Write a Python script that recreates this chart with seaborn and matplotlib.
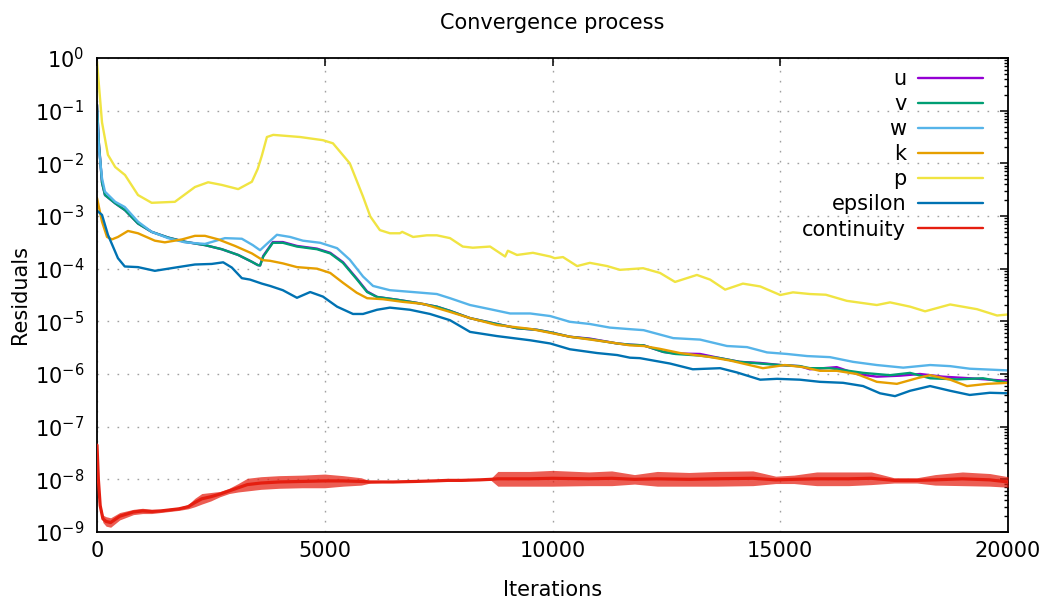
import numpy as np
import pandas as pd
import matplotlib
matplotlib.use("Agg")
import matplotlib.pyplot as plt
import seaborn as sns
from matplotlib.lines import Line2D
from matplotlib.ticker import LogLocator, FixedLocator, NullLocator, LogFormatterSciNotation

# ---------------- data ----------------
series_names = ["u", "v", "w", "k", "p", "epsilon", "continuity"]
series_colors = ["#9400d3", "#009e73", "#56b4e9", "#e69f00", "#f0e442", "#0072b2", "#e51e10"]
x_ticks = [0, 5000, 10000, 15000, 20000]

p_iter = [0, 110, 240, 400, 615, 900, 1200, 1710, 2150, 2440, 2740, 3100, 3400, 3530, 3620,
          3730, 3870, 4460, 4960, 5180, 5550, 5840, 6000, 6210, 6430, 6650, 6700, 6940, 7240,
          7460, 7750, 8030, 8250, 8630, 8960, 9020, 9220, 9570, 9950, 10050, 10230, 10540,
          10820, 11200, 11480, 11990, 12360, 12690, 13170, 13460, 13790, 14180, 14560, 15000,
          15280, 15650, 16000, 16460, 17120, 17410, 17850, 18180, 18730, 19320, 19760, 20000]
p_res = [8.5e-1, 6.0e-2, 1.45e-2, 8.5e-3, 6.0e-3, 2.5e-3, 1.78e-3, 1.86e-3, 3.55e-3, 4.37e-3,
         3.89e-3, 3.24e-3, 4.47e-3, 7.9e-3, 1.41e-2, 3.16e-2, 3.47e-2, 3.16e-2, 2.75e-2, 2.40e-2,
         1.0e-2, 2.34e-3, 9.8e-4, 5.4e-4, 4.7e-4, 4.7e-4, 5.0e-4, 4.0e-4, 4.3e-4, 4.3e-4, 3.8e-4,
         2.63e-4, 2.5e-4, 2.63e-4, 1.70e-4, 2.19e-4, 1.82e-4, 2.0e-4, 1.70e-4, 1.58e-4, 1.66e-4,
         1.12e-4, 1.29e-4, 1.12e-4, 9.5e-5, 1.02e-4, 8.3e-5, 5.6e-5, 7.6e-5, 6.2e-5, 4.0e-5,
         5.2e-5, 4.6e-5, 3.16e-5, 3.55e-5, 3.3e-5, 3.2e-5, 2.45e-5, 2.04e-5, 2.29e-5, 1.9e-5,
         1.55e-5, 2.09e-5, 1.70e-5, 1.29e-5, 1.35e-5]

eps_iter = [0, 110, 240, 460, 610, 900, 1270, 1780, 2150, 2520, 2770, 2960, 3180, 3360, 3620,
            3800, 4080, 4390, 4680, 4960, 5270, 5620, 5840, 6150, 6430, 6870, 7310, 7750, 8190,
            8780, 9510, 9950, 10380, 10980, 11420, 11700, 11920, 12580, 13080, 13680, 14050,
            14560, 14930, 15430, 15870, 16380, 16820, 17190, 17520, 17850, 18290, 18730, 19160,
            19600, 20000]
eps_res = [1.26e-3, 1.05e-3, 4.4e-4, 1.58e-4, 1.10e-4, 1.07e-4, 9.1e-5, 1.07e-4, 1.20e-4, 1.23e-4,
           1.32e-4, 1.05e-4, 6.6e-5, 6.2e-5, 5.2e-5, 4.7e-5, 3.9e-5, 2.8e-5, 3.6e-5, 2.95e-5,
           1.9e-5, 1.38e-5, 1.38e-5, 1.66e-5, 1.82e-5, 1.66e-5, 1.38e-5, 1.05e-5, 6.3e-6, 5.25e-6,
           4.37e-6, 3.8e-6, 2.95e-6, 2.5e-6, 2.29e-6, 2.04e-6, 2.0e-6, 1.58e-6, 1.23e-6, 1.29e-6,
           1.07e-6, 7.8e-7, 8.1e-7, 7.8e-7, 7.1e-7, 6.8e-7, 5.9e-7, 4.3e-7, 3.8e-7, 4.8e-7, 5.9e-7,
           4.8e-7, 4.0e-7, 4.4e-7, 4.3e-7]

w_iter = [0, 40, 110, 175, 400, 610, 900, 1200, 1560, 1930, 2370, 2810, 3180, 3420, 3580, 3700,
          3950, 4240, 4520, 4900, 5270, 5550, 5840, 6060, 6430, 7020, 7460, 7750, 8190, 8630,
          9070, 9510, 9950, 10380, 10820, 11260, 11700, 12000, 12650, 13240, 13830, 14270,
          14710, 15150, 15590, 16090, 16600, 17120, 17700, 18290, 18730, 19160, 20000]
w_res = [1.0e-1, 2.0e-2, 5.2e-3, 2.9e-3, 1.86e-3, 1.48e-3, 7.8e-4, 5.0e-4, 3.8e-4, 3.16e-4,
         2.95e-4, 3.8e-4, 3.7e-4, 2.8e-4, 2.24e-4, 2.8e-4, 4.4e-4, 4.0e-4, 3.4e-4, 3.1e-4,
         2.45e-4, 1.48e-4, 7.1e-5, 4.7e-5, 3.9e-5, 3.55e-5, 3.3e-5, 2.75e-5, 2.04e-5, 1.70e-5,
         1.41e-5, 1.41e-5, 1.26e-5, 9.8e-6, 8.9e-6, 7.6e-6, 7.1e-6, 6.8e-6, 4.8e-6, 4.5e-6,
         3.4e-6, 3.24e-6, 2.57e-6, 2.4e-6, 2.19e-6, 2.09e-6, 1.70e-6, 1.48e-6, 1.32e-6, 1.48e-6,
         1.41e-6, 1.26e-6, 1.17e-6]

v_iter = [0, 40, 110, 175, 400, 615, 900, 1200, 1560, 1930, 2370, 2740, 3100, 3400, 3530, 3580,
          3650, 3860, 4080, 4390, 4830, 5120, 5400, 5710, 5930, 6150, 6590, 7020, 7460, 7750,
          8190, 8780, 9220, 9660, 9950, 10380, 10820, 11420, 11700, 12000, 12430, 12700, 13240,
          13680, 14110, 14560, 15000, 15430, 15650, 16090, 16820, 17410, 17850, 18290, 18880,
          19450, 20000]
v_res = [1.3e-1, 2.5e-2, 4.3e-3, 2.5e-3, 1.74e-3, 1.29e-3, 7.2e-4, 5.0e-4, 3.9e-4, 3.24e-4,
         2.8e-4, 2.34e-4, 1.82e-4, 1.35e-4, 1.17e-4, 1.15e-4, 1.7e-4, 3.1e-4, 3.1e-4, 2.63e-4,
         2.34e-4, 1.95e-4, 1.29e-4, 6.2e-5, 3.6e-5, 2.9e-5, 2.57e-5, 2.24e-5, 1.9e-5, 1.58e-5,
         1.15e-5, 8.9e-6, 7.4e-6, 6.9e-6, 6.2e-6, 5.1e-6, 4.6e-6, 3.8e-6, 3.6e-6, 3.5e-6, 2.63e-6,
         2.4e-6, 2.24e-6, 2.0e-6, 1.70e-6, 1.58e-6, 1.48e-6, 1.41e-6, 1.29e-6, 1.29e-6, 1.05e-6,
         9.5e-7, 1.05e-6, 8.3e-7, 7.9e-7, 8.3e-7, 6.8e-7]

u_iter = [0, 40, 110, 175, 400, 615, 900, 1200, 1560, 1930, 2370, 2740, 3100, 3400, 3530, 3580,
          3650, 3860, 4080, 4390, 4830, 5120, 5400, 5710, 5930, 6150, 6590, 7020, 7460, 7750,
          8190, 8780, 9220, 9660, 9950, 10380, 10820, 11420, 11700, 12000, 12430, 12700, 13240,
          13680, 14110, 14560, 15000, 15430, 15650, 16240, 16680, 17120, 17630, 18070, 18570,
          19160, 20000]
u_res = [1.3e-1, 2.5e-2, 4.3e-3, 2.5e-3, 1.74e-3, 1.29e-3, 7.2e-4, 5.0e-4, 3.9e-4, 3.24e-4,
         2.8e-4, 2.34e-4, 1.82e-4, 1.35e-4, 1.17e-4, 1.15e-4, 1.75e-4, 3.2e-4, 3.2e-4, 2.7e-4,
         2.4e-4, 2.0e-4, 1.33e-4, 6.4e-5, 3.7e-5, 2.9e-5, 2.57e-5, 2.24e-5, 1.9e-5, 1.58e-5,
         1.15e-5, 8.9e-6, 7.4e-6, 6.9e-6, 6.2e-6, 5.1e-6, 4.7e-6, 3.8e-6, 3.6e-6, 3.5e-6, 2.63e-6,
         2.45e-6, 2.4e-6, 2.0e-6, 1.70e-6, 1.62e-6, 1.48e-6, 1.41e-6, 1.23e-6, 1.35e-6, 1.0e-6,
         8.9e-7, 9.3e-7, 1.0e-6, 8.9e-7, 8.3e-7, 7.4e-7]

k_iter = [0, 110, 220, 330, 460, 680, 900, 1270, 1490, 1870, 2150, 2370, 2660, 3030, 3400, 3640,
          3800, 4080, 4390, 4830, 5120, 5400, 5700, 5930, 6280, 6720, 7160, 7750, 8190, 8780,
          9510, 10380, 11260, 11700, 12000, 12360, 12800, 13460, 13900, 14620, 15100, 15500,
          15870, 16240, 16680, 17120, 17560, 18000, 18290, 18730, 19100, 19540, 20000]
k_res = [2.2e-3, 7.8e-4, 4.0e-4, 3.6e-4, 4.0e-4, 5.2e-4, 4.7e-4, 3.4e-4, 3.16e-4, 3.6e-4,
         4.2e-4, 4.2e-4, 3.6e-4, 2.7e-4, 1.95e-4, 1.45e-4, 1.41e-4, 1.26e-4, 1.07e-4, 1.0e-4,
         8.3e-5, 5.4e-5, 3.5e-5, 2.75e-5, 2.63e-5, 2.34e-5, 2.14e-5, 1.51e-5, 1.15e-5, 8.5e-6,
         7.2e-6, 5.1e-6, 4.0e-6, 3.5e-6, 3.4e-6, 3.0e-6, 2.5e-6, 2.1e-6, 1.8e-6, 1.29e-6, 1.48e-6,
         1.35e-6, 1.15e-6, 1.15e-6, 1.0e-6, 7.1e-7, 6.5e-7, 8.3e-7, 9.5e-7, 7.8e-7, 5.9e-7,
         6.5e-7, 6.8e-7]

# continuity: decade exponents (log10 of residual) of the trace and of its noise envelope
cont_iter = [0, 30, 70, 130, 200, 300, 400, 500, 650, 800, 1000, 1200, 1400, 1600, 1800, 2000,
             2150, 2300, 2500, 2700, 2900, 3100, 3300, 3600, 4000, 4500, 5000, 5400, 5800, 6000,
             6500, 7000, 7400, 7700, 8000, 8400, 8650, 8800, 9500, 10000, 10800, 11300, 11800,
             12300, 13000, 13600, 14400, 14900, 15300, 15800, 16500, 17000, 17500, 18000, 18400,
             19000, 19600, 20000]
cont_exp_mid = [-7.35, -8.0, -8.5, -8.75, -8.80, -8.82, -8.76, -8.70, -8.66, -8.62, -8.60, -8.61,
                -8.60, -8.58, -8.56, -8.52, -8.44, -8.37, -8.33, -8.28, -8.22, -8.16, -8.10,
                -8.07, -8.05, -8.04, -8.03, -8.03, -8.04, -8.05, -8.05, -8.04, -8.03, -8.02,
                -8.02, -8.01, -8.00, -7.99, -7.99, -7.98, -7.99, -7.98, -8.00, -7.99, -8.00,
                -7.99, -7.98, -8.01, -8.00, -7.99, -7.99, -7.98, -8.02, -8.02, -8.01, -7.99,
                -8.01, -8.05]
cont_exp_lo = [-7.37, -8.04, -8.55, -8.82, -8.89, -8.91, -8.84, -8.77, -8.72, -8.67, -8.65, -8.65,
               -8.63, -8.61, -8.59, -8.56, -8.52, -8.47, -8.41, -8.33, -8.27, -8.24, -8.22,
               -8.19, -8.17, -8.16, -8.16, -8.13, -8.11, -8.07, -8.05, -8.04, -8.04, -8.02,
               -8.03, -8.01, -8.02, -8.13, -8.13, -8.13, -8.12, -8.12, -8.09, -8.13, -8.13,
               -8.13, -8.12, -8.08, -8.08, -8.12, -8.12, -8.10, -8.07, -8.07, -8.11, -8.12,
               -8.13, -8.15]
cont_exp_hi = [-7.33, -7.96, -8.45, -8.68, -8.71, -8.73, -8.68, -8.63, -8.60, -8.57, -8.55, -8.57,
               -8.57, -8.55, -8.53, -8.48, -8.36, -8.27, -8.25, -8.23, -8.17, -8.08, -7.98,
               -7.95, -7.93, -7.92, -7.90, -7.93, -7.97, -8.03, -8.05, -8.04, -8.02, -8.02,
               -8.01, -8.01, -7.98, -7.85, -7.85, -7.83, -7.86, -7.84, -7.91, -7.85, -7.87,
               -7.85, -7.84, -7.94, -7.92, -7.86, -7.86, -7.86, -7.97, -7.97, -7.91, -7.86,
               -7.89, -7.95]

# ---------------- style ----------------
sns.set_theme(style="white")
plt.rcParams.update({
    "font.family": ["DejaVu Sans"],
    "font.size": 15,
    "mathtext.default": "regular",
    "axes.unicode_minus": False,
    "axes.edgecolor": "#000000",
    "axes.linewidth": 1.3,
    "text.color": "#000000",
    "axes.labelcolor": "#000000",
    "xtick.color": "#000000",
    "ytick.color": "#000000",
    "xtick.labelcolor": "#000000",
    "ytick.labelcolor": "#000000",
})

fig = plt.figure(figsize=(10.51, 6.08), dpi=100)
ax = fig.add_axes([97 / 1051, 1 - 532 / 608, 911 / 1051, 474 / 608])
ax.set_yscale("log")

cont_res = np.power(10.0, cont_exp_mid)
frames = []
for name, it, rs in [("u", u_iter, u_res), ("v", v_iter, v_res), ("w", w_iter, w_res),
                     ("k", k_iter, k_res), ("p", p_iter, p_res), ("epsilon", eps_iter, eps_res),
                     ("continuity", cont_iter, cont_res)]:
    frames.append(pd.DataFrame({"Iterations": it, "Residuals": rs, "series": name}))
df = pd.concat(frames, ignore_index=True)

sns.lineplot(data=df, x="Iterations", y="Residuals", hue="series", hue_order=series_names,
             palette=series_colors, estimator=None, sort=False, legend=False,
             linewidth=1.7, ax=ax)
# noise envelope of the continuity residual
ax.fill_between(cont_iter, np.power(10.0, cont_exp_lo), np.power(10.0, cont_exp_hi),
                color=series_colors[-1], linewidth=0, alpha=0.72, zorder=3)
ax.get_lines()[-1].set_linewidth(2.3)
ax.get_lines()[-1].set_zorder(4)

ax.set_xlim(0, 20000)
ax.set_ylim(1e-9, 1)
ax.xaxis.set_major_locator(FixedLocator(x_ticks))
ax.xaxis.set_minor_locator(NullLocator())
ax.yaxis.set_major_locator(LogLocator(base=10, numticks=20))
ax.yaxis.set_minor_locator(LogLocator(base=10, subs=np.arange(2, 10), numticks=20))
ax.yaxis.set_major_formatter(LogFormatterSciNotation())
ax.tick_params(which="both", direction="in", top=True, right=True, color="#000000")
ax.tick_params(which="major", length=6, width=1.1)
ax.tick_params(which="minor", length=3, width=1.0)
ax.tick_params(axis="y", which="major", pad=9.4, labelsize=15)
ax.tick_params(axis="x", which="major", pad=6.5, labelsize=15)

ax.grid(True, which="major", color="#a0a0a0", linestyle=(0, (1.2, 6)), linewidth=1.0)
ax.set_axisbelow(True)

ax.set_title("Convergence process", fontsize=15, pad=21, color="#000000")
ax.set_xlabel("Iterations", fontsize=15, labelpad=14)
ax.set_ylabel("Residuals", fontsize=15, labelpad=3.6)

handles = [Line2D([], [], color=c, linewidth=1.7) for c in series_colors]
leg = ax.legend(handles, series_names, loc="upper right", bbox_to_anchor=(0.9726, 0.977),
                frameon=False, markerfirst=False, handlelength=3.1, handletextpad=0.58,
                labelspacing=0.245, borderpad=0, borderaxespad=0, fontsize=15)
for col in leg._legend_handle_box.get_children():
    col.align = "right"
for t in leg.get_texts():
    t.set_color("#000000")

fig.savefig("out.png", dpi=100, facecolor="white")
